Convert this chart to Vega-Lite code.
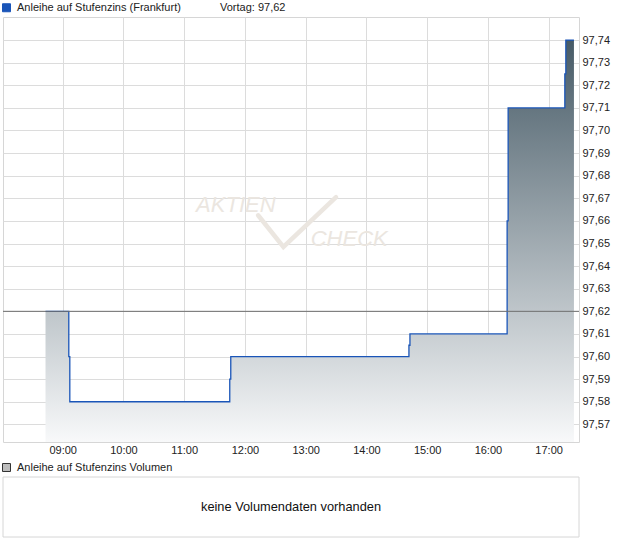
{
  "$schema": "https://vega.github.io/schema/vega-lite/v6.json",
  "padding": {"top": 1, "left": 2, "right": 0, "bottom": 0},
  "background": "white",
  "spacing": 6,
  "config": {
    "view": {"stroke": "#d6d6d6", "strokeWidth": 1},
    "font": "Liberation Sans",
    "axis": {"labelFont": "Liberation Sans", "labelFontSize": 11, "labelColor": "#222222", "gridColor": "#dcdcdc", "gridWidth": 1, "domain": false, "ticks": false, "tickSize": 0, "title": null, "labelOverlap": false},
    "legend": {"labelFont": "Liberation Sans", "labelFontSize": 11, "labelColor": "#222222", "symbolType": "square", "symbolSize": 64, "padding": 0, "offset": 3, "labelOffset": 5, "symbolOffset": -2, "columnPadding": 22, "orient": "top", "direction": "horizontal", "title": null, "labelLimit": 0, "symbolStrokeColor": "#333333", "symbolStrokeWidth": 1}
  },
  "resolve": {"scale": {"color": "independent", "fill": "independent"}, "legend": {"color": "independent", "fill": "independent"}},
  "vconcat": [
    {
      "width": 576,
      "height": 425,
      "layer": [
        {
          "data": {"name": "logo"},
          "mark": {"type": "text", "font": "Liberation Sans", "fontSize": 22, "fontStyle": "italic", "color": "#ebe6e0"},
          "encoding": {
            "x": {"field": "t", "type": "temporal"},
            "y": {"field": "kurs", "type": "quantitative"},
            "text": {"field": "w"}
          }
        },
        {
          "data": {"name": "haken"},
          "mark": {"type": "line", "color": "#ebe6e0", "strokeWidth": 4.5, "strokeJoin": "miter", "strokeCap": "round"},
          "encoding": {
            "x": {"field": "t", "type": "temporal"},
            "y": {"field": "kurs", "type": "quantitative"}
          }
        },
        {
          "data": {"name": "kurs"},
          "mark": {"type": "area", "interpolate": "step-after", "color": {"gradient": "linear", "x1": 0, "y1": 0, "x2": 0, "y2": 1, "stops": [{"offset": 0, "color": "#475b67"}, {"offset": 1, "color": "#f8f9fa"}]}},
          "encoding": {
            "x": {"field": "t", "type": "temporal", "scale": {"domain": ["2024-01-02T08:01:00", "2024-01-02T17:30:00"]}, "axis": {"format": "%H:%M", "tickCount": 9, "labelPadding": 2, "grid": true, "labelFlush": false}},
            "y": {"field": "kurs", "type": "quantitative", "scale": {"domain": [97.5622, 97.7502], "nice": false, "zero": false}, "axis": {"orient": "right", "values": [97.57, 97.58, 97.59, 97.6, 97.61, 97.62, 97.63, 97.64, 97.65, 97.66, 97.67, 97.68, 97.69, 97.7, 97.71, 97.72, 97.73, 97.74], "tickCount": 30, "labelExpr": "replace(format(datum.value, '.2f'), '.', ',')", "labelPadding": 3, "grid": true}},
            "y2": {"datum": 97.5622}
          }
        },
        {
          "data": {"name": "kurs"},
          "mark": {"type": "line", "interpolate": "step-after", "strokeWidth": 1.3},
          "encoding": {
            "x": {"field": "t", "type": "temporal"},
            "y": {"field": "kurs", "type": "quantitative"},
            "color": {"field": "serie", "type": "nominal", "scale": {"domain": ["Anleihe auf Stufenzins (Frankfurt)", "Vortag: 97,62"], "range": ["#1a55b8", "#ffffff"]},
              "legend": {"encode": {"symbols": {"update": {"fill": [{"test": "datum.value === 'Vortag: 97,62'", "value": "#ffffff"}, {"value": "#1a55b8"}], "stroke": {"value": "#333333"}, "strokeWidth": {"value": 1}}}}}}
          }
        },
        {
          "data": {"values": [{"vortag": 97.62}]},
          "mark": {"type": "rule", "color": "#6e6e6e", "strokeWidth": 1},
          "encoding": {"y": {"field": "vortag", "type": "quantitative"}}
        }
      ]
    },
    {
      "width": 576,
      "height": 60,
      "layer": [
        {
          "data": {"values": [{"msg": "keine Volumendaten vorhanden"}]},
          "mark": {"type": "rect", "fill": null, "fillOpacity": 0, "stroke": "#d6d6d6", "strokeWidth": 1},
          "encoding": {}
        },
        {
          "data": {"values": [{"msg": "keine Volumendaten vorhanden"}]},
          "mark": {"type": "text", "font": "Liberation Sans", "fontSize": 12.8, "color": "#111111"},
          "encoding": {"text": {"field": "msg"}}
        },
        {
          "data": {"values": [{"vol": "Anleihe auf Stufenzins Volumen"}]},
          "mark": {"type": "point", "shape": "square", "filled": true, "opacity": 0},
          "encoding": {
            "fill": {"field": "vol", "type": "nominal", "scale": {"range": ["#bdbdbd"]},
              "legend": {"encode": {"symbols": {"update": {"fill": {"value": "#bdbdbd"}, "stroke": {"value": "#333333"}, "strokeWidth": {"value": 1}, "opacity": {"value": 1}}}}}}
          }
        }
      ]
    }
  ],
  "datasets": {
    "logo": [
      {"t": "2024-01-02T11:51:00", "kurs": 97.667, "w": "AKTIEN"},
      {"t": "2024-01-02T13:43:00", "kurs": 97.652, "w": "CHECK"}
    ],
    "haken": [
      {"t": "2024-01-02T12:13:00", "kurs": 97.6625},
      {"t": "2024-01-02T12:38:00", "kurs": 97.6485},
      {"t": "2024-01-02T13:30:00", "kurs": 97.6705}
    ],
    "kurs": [
      {"t": "2024-01-02T08:43:00", "kurs": 97.62, "serie": "Anleihe auf Stufenzins (Frankfurt)"},
      {"t": "2024-01-02T09:06:00", "kurs": 97.60, "serie": "Anleihe auf Stufenzins (Frankfurt)"},
      {"t": "2024-01-02T09:07:00", "kurs": 97.58, "serie": "Anleihe auf Stufenzins (Frankfurt)"},
      {"t": "2024-01-02T11:45:00", "kurs": 97.59, "serie": "Anleihe auf Stufenzins (Frankfurt)"},
      {"t": "2024-01-02T11:46:00", "kurs": 97.60, "serie": "Anleihe auf Stufenzins (Frankfurt)"},
      {"t": "2024-01-02T14:42:00", "kurs": 97.605, "serie": "Anleihe auf Stufenzins (Frankfurt)"},
      {"t": "2024-01-02T14:43:00", "kurs": 97.61, "serie": "Anleihe auf Stufenzins (Frankfurt)"},
      {"t": "2024-01-02T16:19:00", "kurs": 97.66, "serie": "Anleihe auf Stufenzins (Frankfurt)"},
      {"t": "2024-01-02T16:20:00", "kurs": 97.71, "serie": "Anleihe auf Stufenzins (Frankfurt)"},
      {"t": "2024-01-02T17:16:00", "kurs": 97.725, "serie": "Anleihe auf Stufenzins (Frankfurt)"},
      {"t": "2024-01-02T17:17:00", "kurs": 97.74, "serie": "Anleihe auf Stufenzins (Frankfurt)"},
      {"t": "2024-01-02T17:25:00", "kurs": 97.74, "serie": "Anleihe auf Stufenzins (Frankfurt)"}
    ]
  }
}
